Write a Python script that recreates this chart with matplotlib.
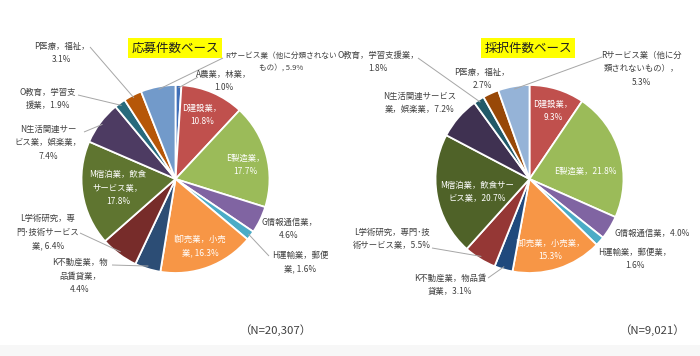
import matplotlib
matplotlib.use("Agg")
import matplotlib.pyplot as plt
import numpy as np

plt.rcParams['font.family'] = ['Noto Sans CJK JP', 'DejaVu Sans']

# ---------------- data ----------------
left_title = "応募件数ベース"
left_n = "（N=20,307）"
left_codes = ['A', 'D', 'E', 'G', 'H', 'I', 'K', 'L', 'M', 'N', 'O', 'P', 'R']
left_values = [1.0, 10.8, 17.7, 4.6, 1.6, 16.3, 4.4, 6.4, 17.8, 7.4, 1.9, 3.1, 5.9]
left_labels = [
    "A農業，林業，\n1.0%",
    "D建設業，\n10.8%",
    "E製造業，\n17.7%",
    "G情報通信業，\n4.6%",
    "H運輸業，郵便\n業, 1.6%",
    "I卸売業，小売\n業, 16.3%",
    "K不動産業，物\n品賃貸業，\n4.4%",
    "L学術研究，専\n門･技術サービス\n業, 6.4%",
    "M宿泊業，飲食\nサービス業，\n17.8%",
    "N生活関連サー\nビス業，娯楽業，\n7.4%",
    "O教育，学習支\n援業，1.9%",
    "P医療，福祉，\n3.1%",
    "Rサービス業（他に分類されない\nもの）, 5.9%",
]

right_title = "採択件数ベース"
right_n = "（N=9,021）"
right_codes = ['D', 'E', 'G', 'H', 'I', 'K', 'L', 'M', 'N', 'O', 'P', 'R']
right_values = [9.3, 21.8, 4.0, 1.6, 15.3, 3.1, 5.5, 20.7, 7.2, 1.8, 2.7, 5.3]
right_labels = [
    "D建設業，\n9.3%",
    "E製造業，21.8%",
    "G情報通信業，4.0%",
    "H運輸業，郵便業，\n1.6%",
    "I卸売業，小売業，\n15.3%",
    "K不動産業，物品賃\n貸業，3.1%",
    "L学術研究，専門･技\n術サービス業，5.5%",
    "M宿泊業，飲食サー\nビス業，20.7%",
    "N生活関連サービス\n業，娯楽業，7.2%",
    "O教育，学習支援業，\n1.8%",
    "P医療，福祉，\n2.7%",
    "Rサービス業（他に分\n類されないもの），\n5.3%",
]

# ---------------- styles / layout ----------------
left_colors = {'A': '#3F6FB8', 'D': '#C0504D', 'E': '#9BBB59', 'G': '#8064A2',
               'H': '#4BACC6', 'I': '#F79646', 'K': '#2C4D75', 'L': '#772C2A',
               'M': '#5F7530', 'N': '#4D3B62', 'O': '#276A7C', 'P': '#B65708',
               'R': '#729ACA'}
right_colors = {'D': '#C0504D', 'E': '#9BBB59', 'G': '#8064A2', 'H': '#4BACC6',
                'I': '#F79646', 'K': '#1F497D', 'L': '#953735', 'M': '#4F6228',
                'N': '#3F3151', 'O': '#215968', 'P': '#984807', 'R': '#95B3D7'}
inside = {'D', 'E', 'I', 'M'}

# label centres in pixel coordinates (layout)
left_pos = {'A': (224, 81), 'D': (202, 115), 'E': (245, 165), 'G': (289, 229),
            'H': (300, 262), 'I': (200, 246), 'K': (80, 276), 'L': (48, 232),
            'M': (118, 188), 'N': (48, 143), 'O': (48, 99), 'P': (62, 53),
            'R': (281, 62)}
right_pos = {'D': (553, 111), 'E': (585, 171), 'G': (652, 233), 'H': (635, 259),
             'I': (550, 250), 'K': (450, 285), 'L': (392, 239), 'M': (477, 192),
             'N': (420, 103), 'O': (378, 62), 'P': (482, 79), 'R': (641, 69)}
label_size = {'R_left': 5.5}
# leader line start points (pixel), ending at slice
left_lead = {'R': (223, 58), 'A': (198, 77), 'P': (90, 47), 'O': (78, 95),
             'N': (84, 132), 'L': (80, 233), 'K': (112, 265), 'H': (269, 256)}
right_lead = {'R': (602, 57), 'O': (418, 58), 'L': (432, 248), 'K': (488, 278)}

W, H = 700, 356
fig = plt.figure(figsize=(W / 100, H / 100), dpi=100)
fig.patch.set_facecolor('white')

def make_pie(cx, cy, r, codes, values, colors):
    ax = fig.add_axes([(cx - r) / W, (H - cy - r) / H, 2 * r / W, 2 * r / H])
    wedges, _ = ax.pie(values, colors=[colors[c] for c in codes], startangle=90,
                       counterclock=False,
                       wedgeprops=dict(edgecolor='white', linewidth=1.3))
    ax.set_xlim(-1, 1)
    ax.set_ylim(-1, 1)
    ax.set_aspect('equal')
    ax.axis('off')
    return ax, wedges

axL, wL = make_pie(175.5, 179, 94, left_codes, left_values, left_colors)
axR, wR = make_pie(529.5, 179, 94, right_codes, right_values, right_colors)

ov = fig.add_axes([0, 0, 1, 1])
ov.set_xlim(0, W)
ov.set_ylim(H, 0)
ov.axis('off')

def annotate(ax, wedges, codes, labels, pos, lead, side):
    inv = ov.transData.inverted()
    for w, c, lab in zip(wedges, codes, labels):
        x, y = pos[c]
        col = 'white' if c in inside else '#404040'
        fs = label_size.get(c + '_' + side, 6.0)
        ov.text(x, y, lab, ha='center', va='center', multialignment='center',
                fontsize=fs, color=col, linespacing=1.65)
        if c in lead:
            th = np.deg2rad((w.theta1 + w.theta2) / 2)
            px, py = inv.transform(ax.transData.transform((0.97 * np.cos(th), 0.97 * np.sin(th))))
            sx, sy = lead[c]
            ov.plot([sx, px], [sy, py], color='#A6A6A6', lw=0.7, solid_capstyle='butt')

annotate(axL, wL, left_codes, left_labels, left_pos, left_lead, 'left')
annotate(axR, wR, right_codes, right_labels, right_pos, right_lead, 'right')

for (x, y), t in [((175, 48), left_title), ((528, 48), right_title)]:
    ov.text(x, y, t, ha='center', va='center', fontsize=9.0, color='#202020',
            bbox=dict(boxstyle='square,pad=0.25', facecolor='#FFFF00', edgecolor='none'))

ov.text(275, 330, left_n, ha='center', va='center', fontsize=8.2, color='#404040')
ov.text(652, 330, right_n, ha='center', va='center', fontsize=8.2, color='#404040')

ov.axhspan(345, 356, color='#F7F7F7', lw=0)

fig.savefig('out.png', dpi=100, facecolor='white')
